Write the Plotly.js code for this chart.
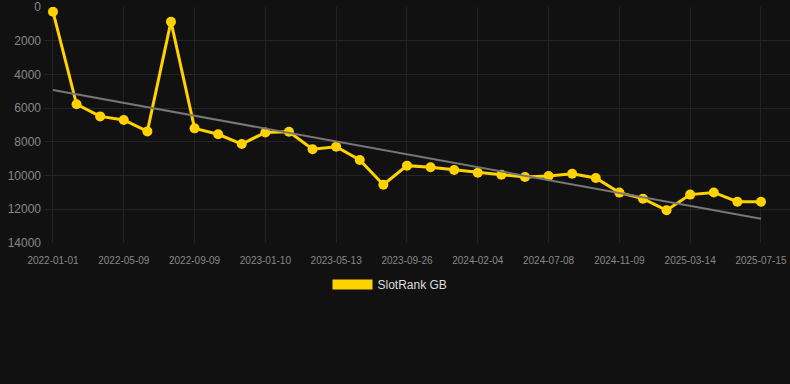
<!DOCTYPE html>
<html>
<head>
<meta charset="utf-8">
<script src="https://cdn.plot.ly/plotly-3.0.1.min.js"></script>
<style>html,body{margin:0;padding:0;background:#111111;}#chart{width:790px;height:384px;}</style>
</head>
<body>
<div id="chart"></div>
<script>
const dates = ["2022-01-01","2022-02-12","2022-03-26","2022-05-09","2022-06-19","2022-07-30","2022-09-09","2022-10-20","2022-11-30","2023-01-10","2023-02-20","2023-04-02","2023-05-13","2023-06-27","2023-08-11","2023-09-26","2023-11-08","2023-12-22","2024-02-04","2024-03-25","2024-05-16","2024-07-08","2024-08-18","2024-09-28","2024-11-09","2024-12-20","2025-01-31","2025-03-14","2025-04-24","2025-06-04","2025-07-15"];
const ranks = [280,5770,6490,6700,7380,870,7200,7550,8130,7440,7400,8440,8290,9080,10540,9410,9510,9670,9830,9950,10080,10030,9890,10140,11010,11370,12060,11130,11000,11550,11550];
const tickLabels = ["2022-01-01","2022-05-09","2022-09-09","2023-01-10","2023-05-13","2023-09-26","2024-02-04","2024-07-08","2024-11-09","2025-03-14","2025-07-15"];
const yTicks = [0,2000,4000,6000,8000,10000,12000,14000];
const trendX = ["2022-01-01","2025-07-15"];
const trendY = [4920,12560];
const seriesName = "SlotRank GB";

const gold = "#FFD200";
const traces = [
  {x: dates, y: ranks, type: "scatter", mode: "lines+markers",
   line: {color: gold, width: 3}, marker: {color: gold, size: 10}, showlegend: false},
  {x: trendX, y: trendY, type: "scatter", mode: "lines",
   line: {color: "#777777", width: 2}, showlegend: false},
  {x: [null], y: [null], type: "scatter", mode: "lines", name: seriesName,
   line: {color: gold, width: 10}, showlegend: true}
];
const layout = {
  width: 790, height: 384,
  paper_bgcolor: "#111111", plot_bgcolor: "#111111",
  margin: {l: 44, r: 0, t: 7, b: 141},
  font: {family: "Liberation Sans, Arial, sans-serif", color: "#888888"},
  xaxis: {type: "category", range: [-0.38, 31.23], tickmode: "array",
    tickvals: tickLabels, ticktext: tickLabels, tickfont: {size: 10, color: "#888888"},
    showgrid: true, gridcolor: "#222222", zeroline: false, showline: false,
    ticks: "outside", ticklen: 8, tickcolor: "rgba(0,0,0,0)", automargin: false},
  yaxis: {range: [14000, 0], tickmode: "array", tickvals: yTicks, ticktext: yTicks.map(String),
    tickfont: {size: 12, color: "#888888"}, showgrid: true, gridcolor: "#242424",
    zeroline: false, showline: false, ticks: "", ticklabelstandoff: 2, automargin: false},
  showlegend: true,
  legend: {orientation: "h", x: 0.4638, xanchor: "center", y: -0.114, yanchor: "top",
    font: {size: 12, color: "#dddddd"}, itemwidth: 40, bgcolor: "rgba(0,0,0,0)"}
};
Plotly.newPlot("chart", traces, layout, {displayModeBar: false, staticPlot: true});
</script>
</body>
</html>
